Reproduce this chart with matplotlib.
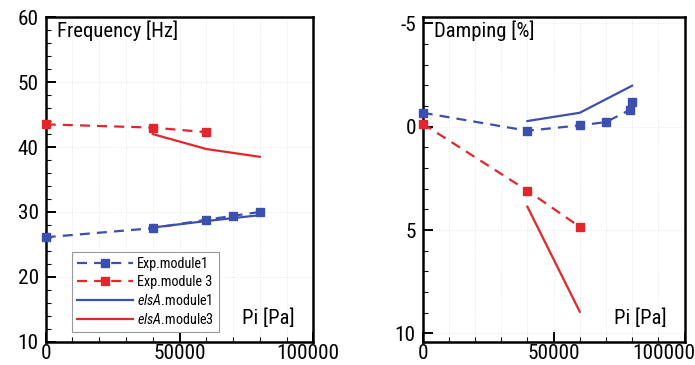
import matplotlib
matplotlib.use("Agg")
import matplotlib.pyplot as plt
from matplotlib.ticker import MultipleLocator, FixedLocator
from matplotlib.transforms import ScaledTranslation
from matplotlib import font_manager

# ---- data ----
freq_exp1_x = [0, 40000, 60000, 70000, 80000]
freq_exp1_y = [26.1, 27.5, 28.8, 29.4, 30.0]
freq_exp3_x = [0, 40000, 60000]
freq_exp3_y = [43.5, 43.0, 42.3]
freq_elsa1_x = [40000, 60000, 80000]
freq_elsa1_y = [27.6, 28.6, 29.5]
freq_elsa3_x = [40000, 60000, 80000]
freq_elsa3_y = [42.0, 39.7, 38.5]

damp_exp1_x = [0, 40000, 60000, 70000, 79000, 80000]
damp_exp1_y = [-0.68, 0.19, -0.07, -0.23, -0.81, -1.19]
damp_exp3_x = [0, 40000, 60000]
damp_exp3_y = [-0.15, 3.09, 4.84]
damp_elsa1_x = [40000, 60000, 80000]
damp_elsa1_y = [-0.28, -0.68, -1.99]
damp_elsa3_x = [40000, 60000]
damp_elsa3_y = [3.87, 8.95]

x_ticks = [0, 50000, 100000]
freq_ticks = [10, 20, 30, 40, 50, 60]
damp_ticks = [-5, 0, 5, 10]
damp_ticklabels = ["-5", "0", "5", "10"]

BLUE = "#3b4fae"
RED = "#e3262b"

# ---- pick a condensed sans font if one is installed ----
def pick_font():
    bad = ("bold", "italic", "oblique", "light", "black", "thin", "medium",
           "semi", "extra", "ultra", "mono", "serif", "cjk", "heavy")
    ranked = []
    for f in font_manager.fontManager.ttflist:
        fn = f.fname.lower().split("/")[-1]
        nm = f.name.lower()
        if not ("narrow" in nm or "condensed" in nm or "narrow" in fn or "condensed" in fn):
            continue
        if any(b in fn for b in bad):
            continue
        score = 5
        if "liberation" in nm and "narrow" in (nm + fn):
            score = 0
        elif "roboto" in nm:
            score = 1
        elif "open sans" in nm:
            score = 2
        elif "noto sans" in nm:
            score = 3
        elif "dejavu" in nm:
            score = 4
        ranked.append((score, f.name, f.stretch))
    if ranked:
        ranked.sort()
        return ranked[0][1], ranked[0][2]
    return "Liberation Sans", "normal"

FAM, STRETCH = pick_font()
plt.rcParams["font.family"] = [FAM, "DejaVu Sans"]
plt.rcParams["font.stretch"] = STRETCH
plt.rcParams["mathtext.fontset"] = "custom"
plt.rcParams["mathtext.it"] = FAM + ":italic"
plt.rcParams["mathtext.rm"] = FAM

labels = ["Exp.module1", "Exp.module 3", r"$\mathit{elsA}$.module1", r"$\mathit{elsA}$.module3"]

fig = plt.figure(figsize=(6.95, 3.65), dpi=100)
renderer = fig.canvas.get_renderer()

def size_for(s, target_px):
    t = fig.text(0, 0, s, fontsize=10)
    w = t.get_window_extent(renderer).width
    t.remove()
    return 10.0 * target_px / w

TICK_FS = size_for("50000", 52)
TXT_FS = size_for("Frequency [Hz]", 120)
LEG_FS = size_for("Exp.module1", 72)

axL = fig.add_axes([0.0658, 0.0638, 0.385, 0.8888])
axR = fig.add_axes([0.6082, 0.0638, 0.3767, 0.8888])

dash = (0, (4.5, 3.2))
lw = 1.6
ms = 5.2

def style(ax):
    for s in ax.spines.values():
        s.set_linewidth(1.8)
        s.set_color("black")
    ax.tick_params(which="major", direction="in", length=7, width=1.4,
                   labelsize=TICK_FS, top=False, right=False)
    ax.tick_params(axis="x", which="major", pad=1.5)
    ax.tick_params(axis="y", which="major", pad=5)
    ax.tick_params(which="minor", direction="in", length=3.5, width=0.8,
                   top=False, right=False)
    ax.grid(True, which="both", axis="x", color="#e6e6e6", linestyle=":", linewidth=0.7)
    ax.grid(True, which="major", axis="y", color="#e6e6e6", linestyle=":", linewidth=0.7)
    ax.set_axisbelow(True)

# ---- left: frequency ----
h1, = axL.plot(freq_exp1_x, freq_exp1_y, color=BLUE, linestyle=dash, lw=lw,
               marker="s", ms=ms, clip_on=False, zorder=3)
h2, = axL.plot(freq_exp3_x, freq_exp3_y, color=RED, linestyle=dash, lw=lw,
               marker="s", ms=ms, clip_on=False, zorder=3)
h3, = axL.plot(freq_elsa1_x, freq_elsa1_y, color=BLUE, lw=lw, zorder=3)
h4, = axL.plot(freq_elsa3_x, freq_elsa3_y, color=RED, lw=lw, zorder=3)
axL.set_xlim(0, 100000)
axL.set_ylim(10, 60)
axL.xaxis.set_major_locator(FixedLocator(x_ticks))
axL.xaxis.set_minor_locator(MultipleLocator(10000))
axL.yaxis.set_major_locator(FixedLocator(freq_ticks))
axL.yaxis.set_minor_locator(MultipleLocator(2))
style(axL)
axL.text(0.043, 0.958, "Frequency [Hz]", transform=axL.transAxes,
         ha="left", va="center", fontsize=TXT_FS)
axL.text(0.93, 0.073, "Pi [Pa]", transform=axL.transAxes,
         ha="right", va="center", fontsize=TXT_FS)
leg = axL.legend([h1, h2, h3, h4], labels, loc="lower left",
                 bbox_to_anchor=(0.097, 0.03), fontsize=LEG_FS, frameon=True,
                 fancybox=False, edgecolor="#999999", framealpha=1,
                 handlelength=4.0, handletextpad=0.3, labelspacing=0.28,
                 borderpad=0.35, borderaxespad=0, numpoints=1)
leg.get_frame().set_linewidth(0.8)

# ---- right: damping ----
axR.plot(damp_exp1_x, damp_exp1_y, color=BLUE, linestyle=dash, lw=lw,
         marker="s", ms=ms, clip_on=False, zorder=3)
axR.plot(damp_exp3_x, damp_exp3_y, color=RED, linestyle=dash, lw=lw,
         marker="s", ms=ms, clip_on=False, zorder=3)
axR.plot(damp_elsa1_x, damp_elsa1_y, color=BLUE, lw=lw, zorder=3)
axR.plot(damp_elsa3_x, damp_elsa3_y, color=RED, lw=lw, zorder=3)
axR.set_xlim(0, 100000)
axR.set_ylim(10.4, -5.3)
axR.xaxis.set_major_locator(FixedLocator(x_ticks))
axR.xaxis.set_minor_locator(MultipleLocator(10000))
axR.yaxis.set_major_locator(FixedLocator(damp_ticks))
axR.yaxis.set_minor_locator(MultipleLocator(1))
axR.set_yticklabels(damp_ticklabels)
style(axR)
axR.text(0.045, 0.958, "Damping [%]", transform=axR.transAxes,
         ha="left", va="center", fontsize=TXT_FS)
axR.text(0.93, 0.073, "Pi [Pa]", transform=axR.transAxes,
         ha="right", va="center", fontsize=TXT_FS)

# shift the last x tick label inward, as in the reference
fig.canvas.draw()
for ax, dx in ((axL, -5), (axR, -21)):
    lab = ax.xaxis.get_majorticklabels()[-1]
    lab.set_transform(lab.get_transform() + ScaledTranslation(dx / 100, 0, fig.dpi_scale_trans))

fig.savefig("out.png", dpi=100)
